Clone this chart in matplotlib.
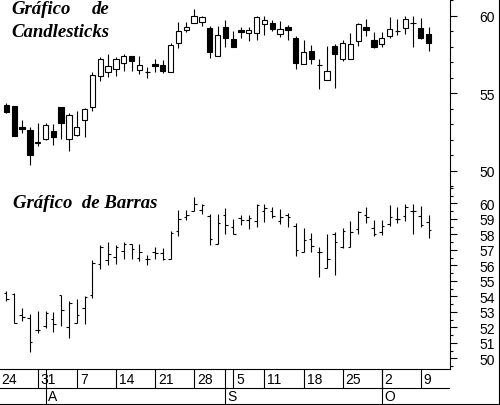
import numpy as np
import pandas as pd
import matplotlib
matplotlib.use("Agg")
import matplotlib.pyplot as plt
from matplotlib.lines import Line2D
from matplotlib.ticker import MultipleLocator

# daily prices 25 Jul - 10 Oct 2000
opens = [54.24, 54.17, 52.82, 52.63, 51.80, 52.06, 52.54, 54.11, 52.02, 52.30,
         53.25, 54.09, 56.09, 56.35, 56.54, 56.95, 57.38, 56.48, 56.40, 56.88,
         56.82, 56.39, 58.22, 59.10, 59.51, 59.57, 59.21, 57.38, 59.25, 58.48,
         59.08, 58.91, 58.86, 59.49, 59.53, 58.84, 59.27, 58.56, 56.86, 57.70,
         56.84, 55.83, 58.02, 57.19, 57.19, 58.35, 59.27, 58.41, 58.15, 58.67,
         58.99, 59.19, 59.51, 59.19, 58.80]
highs = [54.35, 54.20, 53.27, 52.84, 53.08, 53.08, 53.01, 54.11, 53.70, 53.85,
         54.04, 56.35, 57.32, 57.53, 57.32, 57.53, 57.38, 57.38, 56.67, 57.21,
         57.14, 58.22, 59.59, 59.57, 60.43, 59.96, 59.31, 59.34, 59.72, 59.01,
         59.27, 59.27, 59.96, 59.96, 59.74, 59.64, 59.40, 58.71, 58.43, 58.11,
         57.21, 58.05, 58.17, 58.43, 58.88, 59.53, 59.79, 58.95, 58.95, 59.90,
         59.79, 59.96, 59.96, 59.83, 59.25]
lows = [53.72, 52.25, 52.41, 50.39, 51.61, 51.98, 51.68, 52.06, 51.29, 52.26,
        52.20, 53.87, 55.77, 56.02, 56.09, 56.41, 56.41, 56.26, 56.00, 56.39,
        56.32, 56.39, 57.92, 58.93, 59.51, 59.31, 57.29, 57.38, 58.00, 58.00,
        58.58, 58.37, 58.45, 58.78, 59.03, 58.65, 58.45, 56.58, 56.86, 56.86,
        55.25, 55.83, 55.36, 57.10, 57.19, 58.02, 58.71, 57.90, 57.96, 58.56,
        58.75, 58.84, 58.00, 58.50, 57.74]
closes = [53.81, 52.26, 52.67, 51.03, 51.85, 52.95, 52.20, 53.10, 53.59, 52.80,
          53.96, 56.15, 57.19, 56.73, 57.19, 57.38, 57.06, 56.84, 56.40, 56.78,
          56.43, 58.09, 58.99, 59.25, 59.96, 59.90, 57.68, 58.73, 58.58, 58.00,
          58.95, 59.08, 59.90, 59.70, 59.16, 59.12, 59.10, 56.97, 57.66, 57.23,
          56.84, 56.43, 57.51, 58.22, 58.15, 59.44, 59.10, 58.00, 58.54, 59.12,
          58.99, 59.77, 59.51, 58.58, 58.26]

# trading days on the date strip (Labour Day closed)
days = pd.bdate_range("2000-07-24", "2000-10-10")
days = days[days != pd.Timestamp("2000-09-04")]

week_starts = ["2000-07-24", "2000-07-31", "2000-08-07", "2000-08-14", "2000-08-21",
               "2000-08-28", "2000-09-05", "2000-09-11", "2000-09-18", "2000-09-25",
               "2000-10-02", "2000-10-09"]
week_labels = ["24", "31", "7", "14", "21", "28", "5", "11", "18", "25", "2", "9"]
month_starts = ["2000-08-01", "2000-09-01", "2000-10-02"]
month_labels = ["A", "S", "O"]

o, h, l, c = map(np.array, (opens, highs, lows, closes))
x = np.arange(1, len(days))
xlim = (0.18, 57.73)
lw = 0.8

fig = plt.figure(figsize=(5, 4.06), dpi=100)
ax1 = fig.add_axes([0, 0.5369, 0.9, 0.4631])
ax2 = fig.add_axes([0, 0.0887, 0.9, 0.4482])
ax3 = fig.add_axes([0, 0.0025, 0.9, 0.0862])

# candlesticks
up = c >= o
ax1.vlines(x, l, h, color="k", lw=lw, zorder=1)
ax1.bar(x, np.abs(c - o), bottom=np.minimum(o, c), width=0.68,
        color=np.where(up, "white", "black"), edgecolor="k", linewidth=lw, zorder=2)
ax1.set_ylim(48.95, 61.08)
ax1.set_yticks([50, 55, 60])
ax1.yaxis.set_minor_locator(MultipleLocator(1))

# OHLC bars
ax2.vlines(x, l, h, color="k", lw=lw)
ax2.hlines(o, x - 0.33, x, color="k", lw=lw)
ax2.hlines(c, x, x + 0.33, color="k", lw=lw)
ax2.set_ylim(49.31, 61.05)
ax2.set_yticks(range(50, 61))
ax2.yaxis.set_minor_locator(MultipleLocator(0.5))

for ax in (ax1, ax2):
    ax.set_xlim(*xlim)
    ax.set_xticks([])
    ax.yaxis.tick_right()
    ax.tick_params(axis="y", which="major", length=5, width=lw, pad=16,
                   labelsize=10, labelfontfamily="Liberation Sans")
    ax.tick_params(axis="y", which="minor", length=2, width=lw)
    for s in ("top", "left", "bottom"):
        ax.spines[s].set_visible(False)
    ax.spines["right"].set_linewidth(lw)
ax2.spines["bottom"].set_visible(True)
ax2.spines["bottom"].set_linewidth(lw)

# date strip
ax3.set_xlim(*xlim)
ax3.set_ylim(0, 1)
ax3.axis("off")
row = 0.457
ax3.axhline(row, color="k", lw=lw)
wpos = [days.get_loc(pd.Timestamp(d)) for d in week_starts]
mpos = [days.get_loc(pd.Timestamp(d)) for d in month_starts]
ax3.vlines(wpos, row, 1, color="k", lw=lw)
ax3.vlines(mpos, 0, 1, color="k", lw=lw)
for p, s in zip(wpos, week_labels):
    ax3.text(p + 0.38, 0.72, s, va="center", ha="left", fontsize=10,
             family="Liberation Sans")
for p, s in zip(mpos, month_labels):
    ax3.text(p + 0.3, 0.22, s, va="center", ha="left", fontsize=10,
             family="Liberation Sans")

# frame lines on the right and bottom
fig.add_artist(Line2D([0.998, 0.998], [0, 1], color="k", lw=lw, transform=fig.transFigure))
fig.add_artist(Line2D([0, 1], [0.0015, 0.0015], color="k", lw=lw, transform=fig.transFigure))

tf = dict(family="Liberation Serif", style="italic", weight="bold", fontsize=13.5, va="baseline")
fig.text(11 / 500, 1 - 14 / 406, "Gráfico", **tf)
fig.text(92 / 500, 1 - 14 / 406, "de", **tf)
fig.text(11 / 500, 1 - 37 / 406, "Candlesticks", **tf)
fig.text(13 / 500, 1 - 208 / 406, "Gráfico  de Barras", **tf)

fig.savefig("out.png", dpi=100, facecolor="white")
